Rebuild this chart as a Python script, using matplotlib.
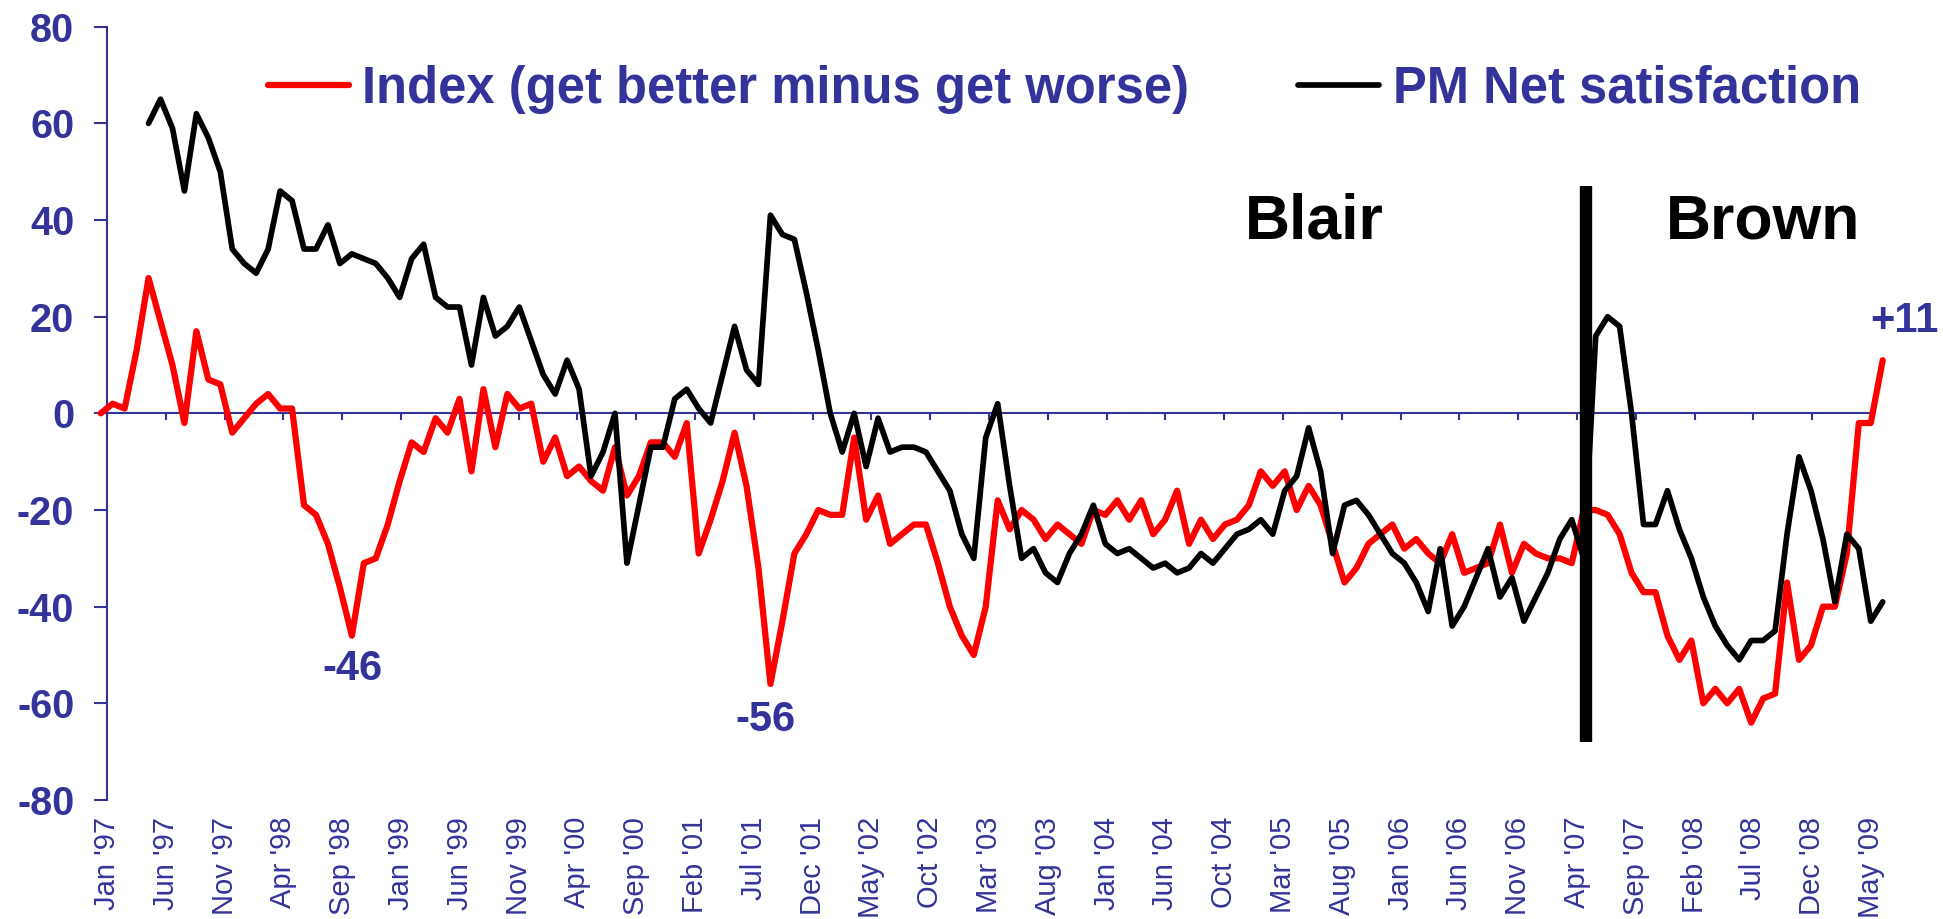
import matplotlib
matplotlib.use("Agg")
import matplotlib.pyplot as plt
import numpy as np

plt.rcParams['font.family'] = ['Liberation Sans', 'DejaVu Sans']
plt.rcParams['axes.unicode_minus'] = False

BLUE = '#333399'
RED = '#FF0000'

# Economic optimism index (get better minus get worse), one value per survey point
index_values = [
    0, 2, 1, 13, 28, 19, 10, -2, 17, 7,
    6, -4, -1, 2, 4, 1, 1, -19, -21, -27,
    -36, -46, -31, -30, -23, -14, -6, -8, -1, -4,
    3, -12, 5, -7, 4, 1, 2, -10, -5, -13,
    -11, -14, -16, -7, -17, -13, -6, -6, -9, -2,
    -29, -22, -14, -4, -15, -32, -56, -43, -29, -25,
    -20, -21, -21, -5, -22, -17, -27, -25, -23, -23,
    -31, -40, -46, -50, -40, -18, -24, -20, -22, -26,
    -23, -25, -27, -20, -21, -18, -22, -18, -25, -22,
    -16, -27, -22, -26, -23, -22, -19, -12, -15, -12,
    -20, -15, -19, -27, -35, -32, -27, -25, -23, -28,
    -26, -29, -31, -25, -33, -32, -31, -23, -33, -27,
    -29, -30, -30, -31, -20, -20, -21, -25, -33, -37,
    -37, -46, -51, -47, -60, -57, -60, -57, -64, -59,
    -58, -35, -51, -48, -40, -40, -29, -2, -2, 11,
]

# PM net satisfaction (starts after the May 1997 election)
pm_net_satisfaction = [
    None, None, None, None, 60, 65, 59, 46, 62, 57,
    50, 34, 31, 29, 34, 46, 44, 34, 34, 39,
    31, 33, 32, 31, 28, 24, 32, 35, 24, 22,
    22, 10, 24, 16, 18, 22, 15, 8, 4, 11,
    5, -13, -8, 0, -31, -19, -7, -7, 3, 5,
    1, -2, 8, 18, 9, 6, 41, 37, 36, 25,
    13, 0, -8, 0, -11, -1, -8, -7, -7, -8,
    -12, -16, -25, -30, -5, 2, -15, -30, -28, -33,
    -35, -29, -25, -19, -27, -29, -28, -30, -32, -31,
    -33, -32, -29, -31, -28, -25, -24, -22, -25, -16,
    -13, -3, -12, -29, -19, -18, -21, -25, -29, -31,
    -35, -41, -28, -44, -40, -34, -28, -38, -34, -43,
    -38, -33, -26, -22, -30, 16, 20, 18, 0, -23,
    -23, -16, -24, -30, -38, -44, -48, -51, -47, -47,
    -45, -25, -9, -16, -26, -39, -25, -28, -43, -39,
]

tick_labels = [
    "Jan '97", "Jun '97", "Nov '97", "Apr '98", "Sep '98", "Jan '99",
    "Jun '99", "Nov '99", "Apr '00", "Sep '00", "Feb '01", "Jul '01",
    "Dec '01", "May '02", "Oct '02", "Mar '03", "Aug '03", "Jan '04",
    "Jun '04", "Oct '04", "Mar '05", "Aug '05", "Jan '06", "Jun '06",
    "Nov '06", "Apr '07", "Sep '07", "Feb '08", "Jul '08", "Dec '08",
    "May '09",
]

series_names = ["Index (get better minus get worse)", "PM Net satisfaction"]

W, H = 1943, 919
fig = plt.figure(figsize=(W / 100, H / 100), dpi=100)
fig.patch.set_facecolor('white')

ax_left, ax_right, ax_top, ax_bot = 107, 1871, 26.7, 800
ax = fig.add_axes([ax_left / W, 1 - ax_bot / H, (ax_right - ax_left) / W, (ax_bot - ax_top) / H])

n_cat = 5 * (len(tick_labels) - 1)
ax.set_xlim(0, n_cat)
ax.set_ylim(-80, 80)
ax.spines['top'].set_visible(False)
ax.spines['right'].set_visible(False)
ax.spines['bottom'].set_position(('data', 0))
for s in ('left', 'bottom'):
    ax.spines[s].set_color(BLUE)
    ax.spines[s].set_linewidth(1.5)
ax.set_xticks(np.arange(0, n_cat + 1, 5))
ax.tick_params(axis='x', direction='out', length=5, width=1.5, color=BLUE, labelbottom=False)
ax.set_yticks(np.arange(-80, 81, 20))
ax.tick_params(axis='y', direction='out', length=9.6, width=1.5, color=BLUE,
               pad=13.9, labelsize=28.5, labelcolor=BLUE)
for t in ax.get_yticklabels():
    t.set_fontweight('bold')

sec = ax.secondary_xaxis('bottom')
sec.set_xticks(np.arange(0, n_cat + 1, 5), labels=tick_labels)
sec.tick_params(length=0, pad=12, labelsize=21, labelcolor=BLUE, labelrotation=90)
sec.spines['bottom'].set_visible(False)

# data axis (series positions are spaced slightly differently from the label axis)
axd = ax.twiny()
axd.set_xlim(0.527, 148.02)
axd.axis('off')

x = np.arange(len(index_values))
red = np.array(index_values, dtype=float)
blk = np.array([np.nan if v is None else v for v in pm_net_satisfaction], dtype=float)

axd.plot(x, red, color=RED, lw=4.5, solid_joinstyle='round', solid_capstyle='round',
         clip_on=False, label=series_names[0], zorder=3)
axd.plot(x, blk, color='black', lw=4.1, solid_joinstyle='round', solid_capstyle='round',
         clip_on=False, label=series_names[1], zorder=4)

# change of PM marker
axd.plot([124.2, 124.2], [-68, 47], color='black', lw=8.9, solid_capstyle='butt', zorder=5)
axd.text(95.7, 36.2, 'Blair', fontsize=45, fontweight='bold', color='black', ha='left', va='baseline')
axd.text(130.9, 36.2, 'Brown', fontsize=45, fontweight='bold', color='black', ha='left', va='baseline')

lab_kw = dict(textcoords='offset points', ha='center', va='center', fontsize=30,
              fontweight='bold', color=BLUE, annotation_clip=False)
i46 = int(np.argmin(red[:40]))
i56 = int(np.argmin(red[:80]))
axd.annotate('%d' % red[i46], xy=(i46, red[i46]), xytext=(0.7, -24), **lab_kw)
axd.annotate('%d' % red[i56], xy=(i56, red[i56]), xytext=(-3.6, -26), **lab_kw)
axd.annotate('+%d' % red[-1], xy=(len(red) - 1, red[-1]), xytext=(15.8, 28), **lab_kw)

leg = axd.legend(loc='center left', bbox_to_anchor=(268 / W, 1 - 89 / H),
                 bbox_transform=fig.transFigure, ncol=2, frameon=False,
                 prop={'weight': 'bold', 'size': 36.5}, labelcolor=BLUE,
                 handlelength=1.6, handletextpad=0.26, columnspacing=2.15,
                 borderpad=0, borderaxespad=0)

fig.savefig('out.png', dpi=100)
